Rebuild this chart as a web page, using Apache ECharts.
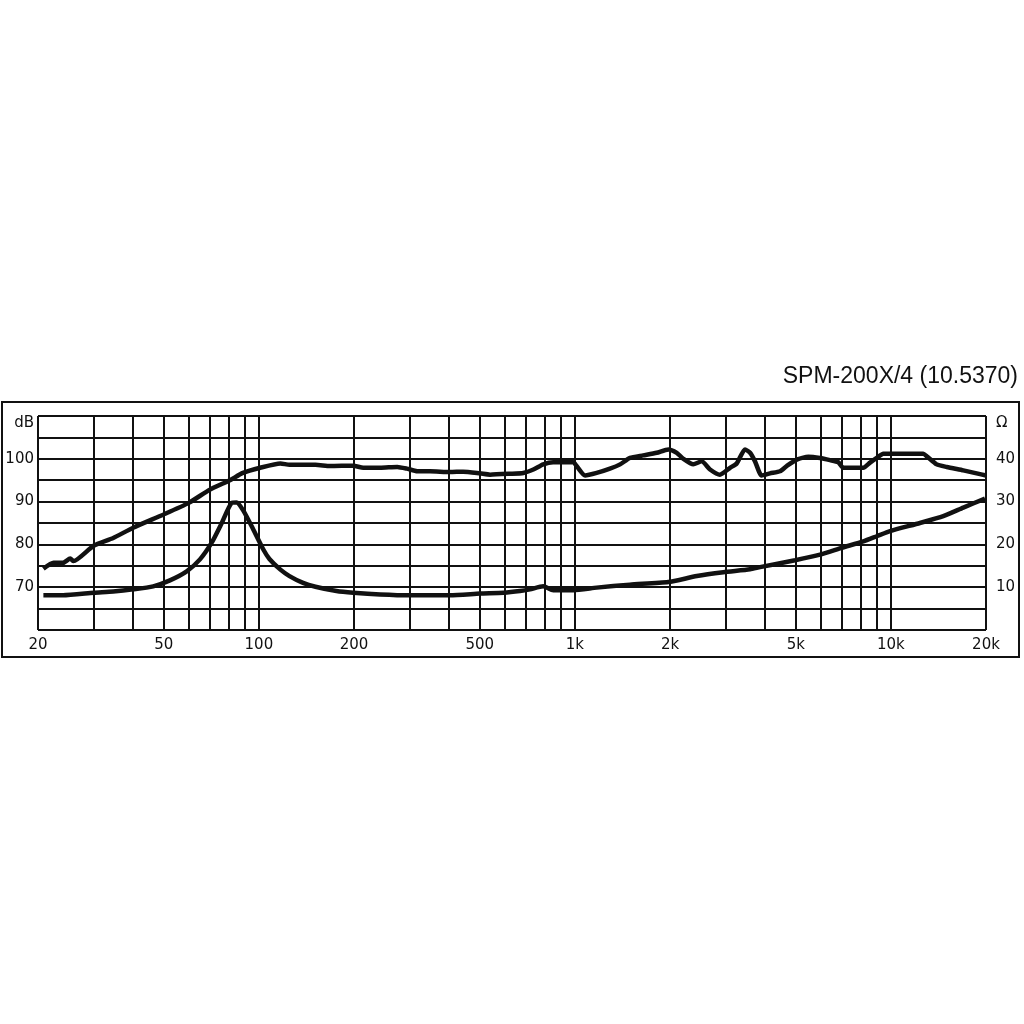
<!DOCTYPE html>
<html>
<head>
<meta charset="utf-8">
<script src="https://cdn.jsdelivr.net/npm/echarts@6/dist/echarts.min.js"></script>
<style>html,body{margin:0;padding:0;background:#fff}#c{width:1024px;height:1024px}</style>
</head>
<body>
<div id="c"></div>
<script>
// ---- data ----
const titleText = 'SPM-200X/4 (10.5370)';
const xTickLabels = [20, 50, 100, 200, 500, 1000, 2000, 5000, 10000, 20000];
const gridFreqs = [20,30,40,50,60,70,80,90,100,200,300,400,500,600,700,800,900,1000,2000,3000,4000,5000,6000,7000,8000,9000,10000,20000];
const dbLabels = [70, 80, 90, 100];
const ohmLabels = [10, 20, 30, 40];

const splFreq = [20.8,22.4,24,25.3,25.9,30,34.6,40,50,60,70,81,89,101,117,125,151,168,199,214,242,274,294,317,348,403,443,501,539,623,687,739,794,854,919,989,1013,1077,1172,1291,1390,1494,1646,1815,1975,2101,2204,2370,2520,2677,2878,3097,3252,3455,3584,3716,3900,4146,4458,4679,5035,5481,5968,6418,6818,7070,8180,8592,9020,9464,10688,12666,12984,13964,15017,16949,18686,20000];
const splDB   = [74.3,75.7,75.7,76.7,76.1,79.7,81.5,83.9,87.0,89.7,92.8,95.0,96.7,97.9,98.9,98.6,98.6,98.3,98.4,97.9,97.9,98.1,97.7,97.1,97.1,96.9,97.0,96.6,96.3,96.5,96.7,97.5,98.7,99.2,99.2,99.2,98.3,96.1,96.7,97.7,98.7,100.2,100.8,101.4,102.2,101.4,100.0,98.7,99.4,97.5,96.3,97.9,98.9,102.2,101.4,99.4,96.1,96.6,97.1,98.3,99.8,100.5,100.2,99.7,99.2,97.9,97.9,99.1,100.2,101.2,101.2,101.2,100.6,98.7,98.1,97.3,96.6,96.1];

const impFreq = [20.8,24,30,34.6,40,46.3,52.3,59.1,65.1,70.9,76.3,82,85,89.3,96,103.3,108,117,125,138,151,176,199,242,301,403,501,594,670,721,794,854,989,1172,1494,1975,2431,2950,3584,3854,4975,5968,6989,8180,9020,9938,12360,14650,16952,19854];
const impOhm  = [8.1,8.1,8.7,9.0,9.5,10.2,11.6,13.7,16.5,20.4,25.0,29.7,29.8,27.9,23.5,18.8,16.6,14.1,12.6,11.0,10.1,9.1,8.7,8.3,8.1,8.1,8.5,8.7,9.1,9.5,10.2,9.3,9.3,9.9,10.6,11.2,12.6,13.5,14.2,14.7,16.3,17.6,19.2,20.7,21.9,23.1,25.0,26.6,28.6,30.7];

// ---- chart ----
const fmtHz = v => v >= 1000 ? (v / 1000) + 'k' : String(v);
const labelFont = 'DejaVu Sans';
const chart = echarts.init(document.getElementById('c'));
chart.setOption({
  animation: false,
  backgroundColor: '#fff',
  title: {
    text: titleText, right: 6, top: 365, padding: 0,
    textStyle: { fontFamily: 'Liberation Sans', fontSize: 23, fontWeight: 'normal', color: '#111' }
  },
  graphic: [{
    type: 'rect', shape: { x: 2, y: 402, width: 1017, height: 255 },
    style: { fill: 'none', stroke: '#111', lineWidth: 2 }, silent: true, z: -1
  }],
  grid: { left: 38, right: 38, top: 416, bottom: 394 },
  xAxis: {
    type: 'log', logBase: 10, min: 20, max: 20000,
    axisLine: { show: false }, axisTick: { show: false }, splitLine: { show: false },
    minorTick: { show: false }, minorSplitLine: { show: false },
    axisLabel: {
      customValues: xTickLabels, formatter: v => fmtHz(Math.round(v)),
      fontFamily: labelFont, fontSize: 15, color: '#111', margin: 8, showMinLabel: true, showMaxLabel: true
    }
  },
  yAxis: [{
    type: 'value', min: 60, max: 110, interval: 5,
    axisLine: { show: false }, axisTick: { show: false },
    splitLine: { show: true, lineStyle: { color: '#111', width: 2 } },
    axisLabel: {
      fontFamily: labelFont, fontSize: 15, color: '#111', margin: 4,
      formatter: v => v === 110 ? '{u|dB}' : (dbLabels.indexOf(v) >= 0 ? String(v) : ''),
      rich: { u: { fontFamily: labelFont, fontSize: 15, color: '#111', padding: [14, 0, 0, 0] } }
    }
  }, {
    type: 'value', min: 0, max: 50, interval: 5, position: 'right',
    axisLine: { show: false }, axisTick: { show: false }, splitLine: { show: false },
    axisLabel: {
      fontFamily: labelFont, fontSize: 15, color: '#111', margin: 10,
      formatter: v => v === 50 ? '{u|Ω}' : (ohmLabels.indexOf(v) >= 0 ? String(v) : ''),
      rich: { u: { fontFamily: labelFont, fontSize: 15, color: '#111', padding: [14, 0, 0, 0] } }
    }
  }],
  series: [{
    name: 'grid', type: 'line', data: [], silent: true,
    markLine: {
      silent: true, symbol: ['none', 'none'], label: { show: false },
      lineStyle: { color: '#111', width: 2, type: 'solid' },
      data: gridFreqs.map(f => ({ xAxis: f }))
    }
  }, {
    name: 'SPL', type: 'line', yAxisIndex: 0, showSymbol: false, smooth: 0.2,
    lineStyle: { color: '#111', width: 4.5 },
    data: splFreq.map((f, i) => [f, splDB[i]]), z: 5
  }, {
    name: 'Impedance', type: 'line', yAxisIndex: 1, showSymbol: false, smooth: 0.2,
    lineStyle: { color: '#111', width: 4.5 },
    data: impFreq.map((f, i) => [f, impOhm[i]]), z: 5
  }]
});
</script>
</body>
</html>
